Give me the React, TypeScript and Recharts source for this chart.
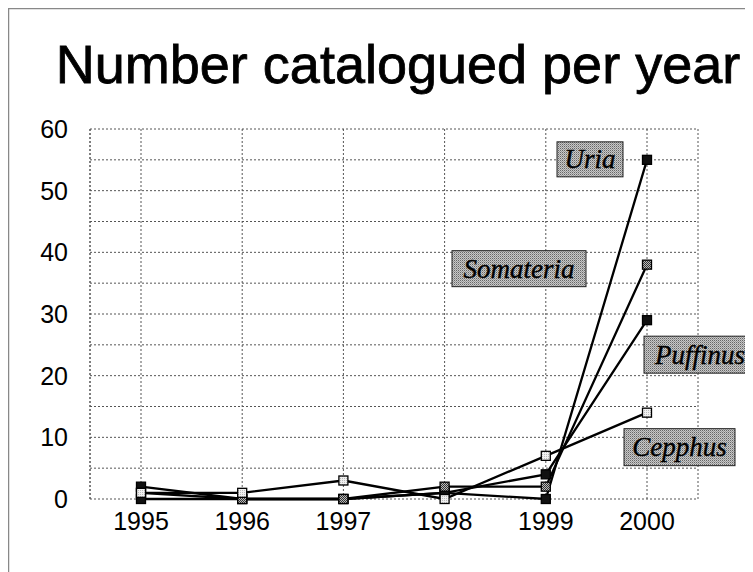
import React from 'react';
import { LineChart, Line, XAxis, YAxis, CartesianGrid, LabelList } from 'recharts';

const years = ['1995', '1996', '1997', '1998', '1999', '2000'];
const uria = [2, 0, 0, 1, 0, 55];
const puffinus = [0, 0, 0, 1, 4, 29];
const somateria = [1, 0, 0, 2, 2, 38];
const cepphus = [1, 1, 3, 0, 7, 14];
const yTicks = [0, 5, 10, 15, 20, 25, 30, 35, 40, 45, 50, 55, 60];
const title = 'Number catalogued per year';

const data = years.map((year, i) => ({
  year,
  Uria: uria[i],
  Puffinus: puffinus[i],
  Somateria: somateria[i],
  Cepphus: cepphus[i],
}));

const SANS = 'Liberation Sans, Arial, Helvetica, sans-serif';
const SERIF = 'Liberation Serif, Times New Roman, serif';

function makeDot(fill: string) {
  return (p: any) => {
    const { cx, cy, index } = p;
    if (cx == null || cy == null) return <g key={`d-${index}`} />;
    return (
      <rect
        key={`d-${index}`}
        x={cx - 4.5}
        y={cy - 4.5}
        width={9}
        height={9}
        fill={fill}
        stroke="#000"
        strokeWidth={1.3}
      />
    );
  };
}

function makeLabel(name: string, dx: number, dy: number, w: number, h: number) {
  return (props: any) => {
    if (props.index !== years.length - 1) return null;
    const x = Number(props.x);
    const y = Number(props.y);
    return (
      <g>
        <rect x={x + dx} y={y + dy} width={w} height={h} fill="url(#halftone)" stroke="#222" strokeWidth={1} />
        <text
          x={x + dx + w / 2}
          y={y + dy + h / 2}
          dy="0.33em"
          textAnchor="middle"
          fontFamily={SERIF}
          fontStyle="italic"
          fontSize={27}
          fill="#000"
          stroke="#000"
          strokeWidth={0.4}
        >
          {name}
        </text>
      </g>
    );
  };
}

export default function App() {
  return (
    <div style={{ position: 'relative', width: 745, height: 564 }}>
      <div style={{ position: 'absolute', left: 0, top: 0 }}>
        <LineChart width={745} height={564} data={data} margin={{ top: 121, right: 55, bottom: 43, left: 0 }}>
          <CartesianGrid stroke="#555" strokeDasharray="2 2" strokeWidth={1} />
          <XAxis
            dataKey="year"
            padding={{ left: 51, right: 51 }}
            tickLine={false}
            axisLine={false}
            tickSize={0}
            tickMargin={13}
            interval={0}
            tick={{ fill: '#000', fontSize: 25, fontFamily: SANS }}
          />
          <YAxis
            domain={[0, 60]}
            ticks={yTicks}
            width={82}
            tickLine={false}
            tickSize={0}
            tickMargin={22}
            interval={0}
            axisLine={{ stroke: '#555', strokeDasharray: '2 2' }}
            tickFormatter={(v: number) => (v % 10 === 0 ? String(v) : '')}
            tick={{ fill: '#000', fontSize: 25, fontFamily: SANS }}
          />
          <YAxis
            yAxisId="right"
            orientation="right"
            domain={[0, 60]}
            width={0}
            tick={false}
            tickLine={false}
            axisLine={{ stroke: '#555', strokeDasharray: '2 2' }}
          />
          <Line type="linear" dataKey="Uria" stroke="#000" strokeWidth={2.3} dot={makeDot('#111')} activeDot={false} isAnimationActive={false}>
            <LabelList dataKey="Uria" content={makeLabel('Uria', -90, -18, 66, 35)} />
          </Line>
          <Line type="linear" dataKey="Puffinus" stroke="#000" strokeWidth={2.3} dot={makeDot('#111')} activeDot={false} isAnimationActive={false}>
            <LabelList dataKey="Puffinus" content={makeLabel('Puffinus', -3, 16, 112, 37)} />
          </Line>
          <Line type="linear" dataKey="Somateria" stroke="#000" strokeWidth={2.3} dot={makeDot('url(#checker)')} activeDot={false} isAnimationActive={false}>
            <LabelList dataKey="Somateria" content={makeLabel('Somateria', -195, -14, 134, 36)} />
          </Line>
          <Line type="linear" dataKey="Cepphus" stroke="#000" strokeWidth={2.3} dot={makeDot('url(#lightdots)')} activeDot={false} isAnimationActive={false}>
            <LabelList dataKey="Cepphus" content={makeLabel('Cepphus', -23, 16, 111, 37)} />
          </Line>
        </LineChart>
      </div>
      <svg width={745} height={564} style={{ position: 'absolute', left: 0, top: 0, pointerEvents: 'none' }}>
        <defs>
          <pattern id="halftone" width={2} height={2} patternUnits="userSpaceOnUse">
            <rect width={2} height={2} fill="#c8c8c8" />
            <rect x={0} y={0} width={1} height={1} fill="#666" />
            <rect x={1} y={1} width={1} height={1} fill="#999" />
          </pattern>
          <pattern id="checker" width={2} height={2} patternUnits="userSpaceOnUse">
            <rect width={2} height={2} fill="#bbb" />
            <rect x={0} y={0} width={1} height={1} fill="#333" />
            <rect x={1} y={1} width={1} height={1} fill="#333" />
          </pattern>
          <pattern id="lightdots" width={2} height={2} patternUnits="userSpaceOnUse">
            <rect width={2} height={2} fill="#f0f0f0" />
            <rect x={0} y={0} width={1} height={1} fill="#bbb" />
          </pattern>
        </defs>
        <line x1={0.5} y1={0} x2={0.5} y2={564} stroke="#888" strokeWidth={1.5} />
        <line x1={0} y1={0.5} x2={745} y2={0.5} stroke="#888" strokeWidth={1.5} />
        <text x={390} y={75} textAnchor="middle" fontFamily={SANS} fontSize={54} fill="#000" stroke="#000" strokeWidth={0.8}>
          {title}
        </text>
      </svg>
    </div>
  );
}
